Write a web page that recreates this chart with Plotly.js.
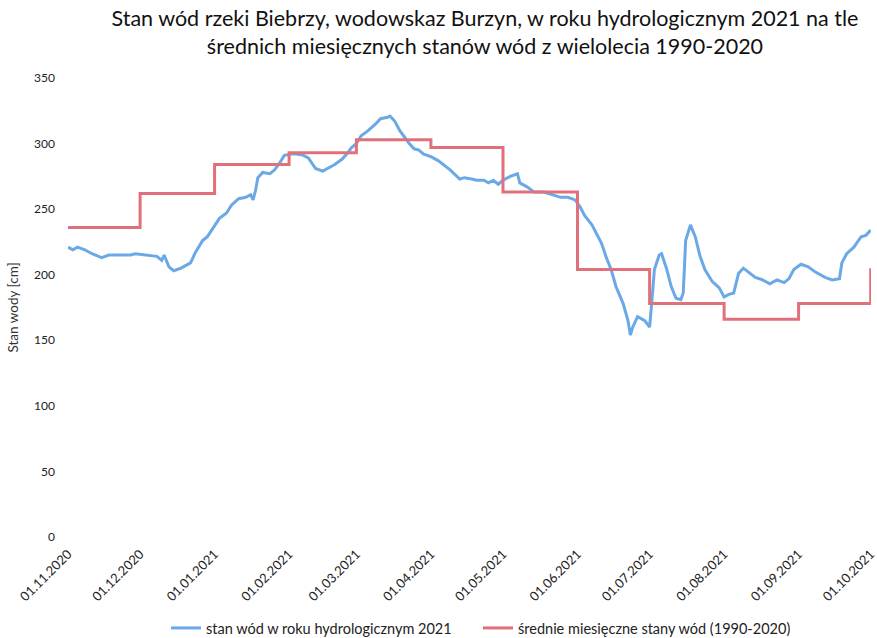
<!DOCTYPE html>
<html>
<head>
<meta charset="utf-8">
<script src="https://cdn.plot.ly/plotly-3.0.1.min.js"></script>
<style>html,body{margin:0;padding:0;background:#fff;}#chart{width:877px;height:638px;}</style>
</head>
<body>
<div id="chart"></div>
<script>
// Daily water level 2021
const dailyDates = [
"2020-11-01","2020-11-03","2020-11-05","2020-11-08","2020-11-11","2020-11-15","2020-11-18","2020-11-27","2020-11-29",
"2020-12-04","2020-12-08","2020-12-10","2020-12-11","2020-12-13","2020-12-15","2020-12-18","2020-12-20","2020-12-22","2020-12-24","2020-12-27","2020-12-29","2020-12-31",
"2021-01-03","2021-01-06","2021-01-08","2021-01-11","2021-01-14","2021-01-16","2021-01-17","2021-01-18","2021-01-19","2021-01-21","2021-01-24","2021-01-26","2021-01-28","2021-01-30",
"2021-02-02","2021-02-04","2021-02-07","2021-02-09","2021-02-12","2021-02-15","2021-02-17","2021-02-20","2021-02-23","2021-02-25","2021-02-27",
"2021-03-01","2021-03-03","2021-03-06","2021-03-09","2021-03-11","2021-03-14","2021-03-15","2021-03-17","2021-03-19","2021-03-21","2021-03-23","2021-03-25","2021-03-27","2021-03-29",
"2021-04-01","2021-04-04","2021-04-07","2021-04-09","2021-04-13","2021-04-15","2021-04-18","2021-04-20","2021-04-23","2021-04-25","2021-04-27","2021-04-29",
"2021-05-01","2021-05-04","2021-05-07","2021-05-08","2021-05-11","2021-05-14","2021-05-18","2021-05-22","2021-05-25","2021-05-28","2021-05-31",
"2021-06-02","2021-06-04","2021-06-07","2021-06-11","2021-06-13","2021-06-15","2021-06-17","2021-06-20","2021-06-22","2021-06-23","2021-06-24","2021-06-26","2021-06-29",
"2021-07-01","2021-07-02","2021-07-03","2021-07-05","2021-07-06","2021-07-08","2021-07-10","2021-07-12","2021-07-14","2021-07-15","2021-07-16","2021-07-18","2021-07-20","2021-07-22","2021-07-24","2021-07-27","2021-07-30",
"2021-08-01","2021-08-03","2021-08-05","2021-08-07","2021-08-09","2021-08-12","2021-08-14","2021-08-17","2021-08-20","2021-08-23","2021-08-26","2021-08-28","2021-08-30",
"2021-09-02","2021-09-05","2021-09-08","2021-09-12","2021-09-15","2021-09-18","2021-09-19","2021-09-21","2021-09-24","2021-09-27","2021-09-29","2021-10-01"
];
const dailyLevels = [
221,219,221,219,216,213,215,215,216,
215,214,211,215,206,203,205,207,209,217,226,229,235,
243,247,253,258,259,261,257,264,274,278,277,280,285,291,
292,292,291,289,281,279,281,284,288,292,297,
300,306,310,315,319,320,321,317,310,305,300,296,295,292,
290,287,283,280,273,274,273,272,272,270,272,269,
272,275,277,270,267,263,263,261,259,259,257,
252,245,238,224,213,204,191,178,165,154,160,168,165,
160,181,204,215,216,205,191,182,181,186,226,238,229,214,204,195,190,
183,185,186,201,205,201,198,196,193,196,194,197,204,
208,206,202,198,196,197,209,216,221,229,230,234
];

// Monthly mean levels 1990-2020
const monthStarts = ["2020-11-01","2020-12-01","2021-01-01","2021-02-01","2021-03-01","2021-04-01","2021-05-01","2021-06-01","2021-07-01","2021-08-01","2021-09-01","2021-10-01"];
const monthlyMeans = [236,262,284,293,303,297,263,204,178,166,178,205];

const seriesNames = ["stan wód w roku hydrologicznym 2021","średnie miesięczne stany wód (1990-2020)"];

const font = "Lato, 'Open Sans', sans-serif";

const traces = [
  {x: dailyDates, y: dailyLevels, type: "scatter", mode: "lines", name: seriesNames[0],
   line: {color: "#6aa9e6", width: 3}},
  {x: monthStarts, y: monthlyMeans, type: "scatter", mode: "lines", name: seriesNames[1],
   line: {color: "#e2707a", width: 3, shape: "hv"}}
];

const layout = {
  width: 877, height: 638,
  paper_bgcolor: "#fff", plot_bgcolor: "#fff",
  font: {family: font, color: "#222"},
  margin: {l: 68, r: 6, t: 78, b: 101},
  title: {text: "Stan wód rzeki Biebrzy, wodowskaz Burzyn, w roku hydrologicznym 2021 na tle<br>średnich miesięcznych stanów wód z wielolecia 1990-2020",
          font: {family: font, size: 21.5, color: "#111"}, x: 0.553, xref: "container", xanchor: "center", y: 0.959, yanchor: "top"},
  xaxis: {type: "date", range: ["2020-11-01", "2021-10-01 03:00"], tickvals: monthStarts, tickformat: "%d.%m.%Y",
          tickangle: -45, tickfont: {size: 13, color: "#222"}, showgrid: false, zeroline: false, showline: false, ticks: "",
          ticklabeloverflow: "allow", ticklabelstandoff: 6},
  yaxis: {range: [0, 350], dtick: 50, tickfont: {size: 12, color: "#222"}, showgrid: false, zeroline: false, showline: false,
          ticks: "", ticklabelstandoff: 12,
          title: {text: "Stan wody [cm]", font: {size: 13.5, color: "#333"}, standoff: 12}},
  showlegend: true,
  legend: {orientation: "h", xref: "container", x: 166/877, xanchor: "left", yref: "container", y: 1 - 628/638, yanchor: "middle",
           entrywidth: 267, font: {size: 14.5, color: "#222"}}
};

Plotly.newPlot("chart", traces, layout, {displayModeBar: false, staticPlot: true});
</script>
</body>
</html>
